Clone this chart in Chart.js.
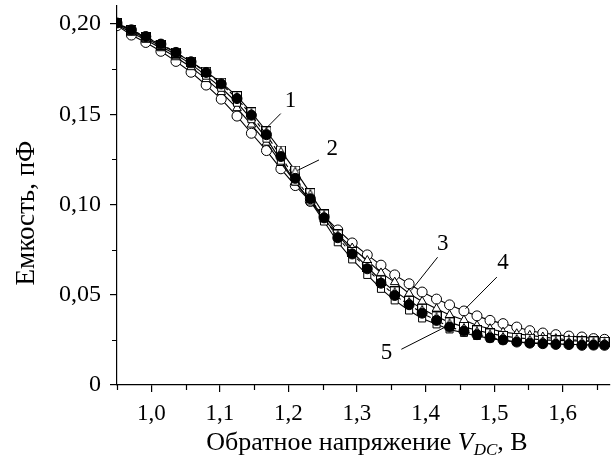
<!DOCTYPE html>
<html>
<head>
<meta charset="utf-8">
<script src="https://cdn.jsdelivr.net/npm/chart.js@4.4.0/dist/chart.umd.min.js"></script>
<style>
  html, body { margin: 0; padding: 0; background: #fff; }
</style>
</head>
<body>
<canvas id="chart" width="616" height="464"></canvas>
<script>
// reverse bias, V
const voltage = [0.950, 0.971, 0.992, 1.014, 1.036, 1.058, 1.080, 1.102, 1.125, 1.146,
                 1.168, 1.189, 1.210, 1.232, 1.252, 1.272, 1.293, 1.315, 1.335, 1.355,
                 1.376, 1.395, 1.416, 1.435, 1.456, 1.475, 1.494, 1.513, 1.533, 1.552,
                 1.571, 1.590, 1.609, 1.628, 1.645, 1.661];

// capacitance, pF
const curve1 = [0.2004, 0.1966, 0.1927, 0.1885, 0.1841, 0.1791, 0.1736, 0.1675, 0.1600, 0.1511,
                0.1406, 0.1299, 0.1188, 0.1063, 0.0945, 0.0834, 0.0737, 0.0654, 0.0579, 0.0519,
                0.0466, 0.0422, 0.0380, 0.0347, 0.0322, 0.0303, 0.0286, 0.0272, 0.0261, 0.0256,
                0.0250, 0.0247, 0.0245, 0.0242, 0.0242, 0.0239];
const curve2 = [0.2002, 0.1960, 0.1921, 0.1877, 0.1830, 0.1778, 0.1714, 0.1647, 0.1564, 0.1473,
                0.1365, 0.1243, 0.1127, 0.1017, 0.0906, 0.0791, 0.0696, 0.0610, 0.0533, 0.0469,
                0.0413, 0.0369, 0.0336, 0.0308, 0.0289, 0.0272, 0.0258, 0.0247, 0.0239, 0.0234,
                0.0231, 0.0228, 0.0225, 0.0224, 0.0222, 0.0221];
const curve3 = [0.1996, 0.1952, 0.1913, 0.1866, 0.1816, 0.1761, 0.1695, 0.1623, 0.1534, 0.1443,
                0.1343, 0.1230, 0.1122, 0.1022, 0.0917, 0.0834, 0.0759, 0.0690, 0.0621, 0.0570,
                0.0507, 0.0463, 0.0423, 0.0388, 0.0360, 0.0330, 0.0312, 0.0293, 0.0284, 0.0275,
                0.0266, 0.0257, 0.0251, 0.0247, 0.0242, 0.0239];
const curve4 = [0.1991, 0.1939, 0.1898, 0.1849, 0.1793, 0.1733, 0.1662, 0.1584, 0.1490, 0.1395,
                0.1299, 0.1198, 0.1105, 0.1017, 0.0936, 0.0859, 0.0787, 0.0721, 0.0664, 0.0610,
                0.0561, 0.0515, 0.0476, 0.0444, 0.0410, 0.0383, 0.0358, 0.0340, 0.0321, 0.0301,
                0.0288, 0.0279, 0.0271, 0.0266, 0.0257, 0.0253];
const curve5 = [0.2006, 0.1968, 0.1931, 0.1889, 0.1843, 0.1791, 0.1732, 0.1668, 0.1587, 0.1495,
                0.1387, 0.1266, 0.1145, 0.1032, 0.0926, 0.0816, 0.0726, 0.0644, 0.0564, 0.0496,
                0.0445, 0.0398, 0.0358, 0.0321, 0.0299, 0.0279, 0.0262, 0.0250, 0.0238, 0.0232,
                0.0229, 0.0225, 0.0224, 0.0220, 0.0221, 0.0220];

const xMinor = [0.95, 1.05, 1.15, 1.25, 1.35, 1.45, 1.55, 1.65];
const yMinor = [0.025, 0.075, 0.125, 0.175];

// curve numbers: text position and leader line, in data units
const curveLabels = [
    { text: '1', at: [1.2032, 0.1576], from: [1.1888, 0.1504], to: [1.1672, 0.1421] },
    { text: '2', at: [1.2638, 0.1310], from: [1.2446, 0.1247], to: [1.2133, 0.1189] },
    { text: '3', at: [1.4252, 0.0784], from: [1.4176, 0.0708], to: [1.3791, 0.0524] },
    { text: '4', at: [1.5131, 0.0679], from: [1.5040, 0.0598], to: [1.4583, 0.0423] },
    { text: '5', at: [1.3432, 0.0175], from: [1.3647, 0.0198], to: [1.4271, 0.0318] }
];

const SERIF = '"Liberation Serif", "DejaVu Serif", serif';

function pairs(ys) {
    return voltage.map((v, i) => ({ x: v, y: ys[i] }));
}

// square with a triangle inside, as the marker of curve 1
function boxedTriangle(size) {
    const c = document.createElement('canvas');
    c.width = size; c.height = size;
    const g = c.getContext('2d');
    g.fillStyle = '#fff';
    g.fillRect(0, 0, size, size);
    g.strokeStyle = '#000';
    g.lineWidth = 1;
    g.strokeRect(0.5, 0.5, size - 1, size - 1);
    g.beginPath();
    g.moveTo(1, size - 1);
    g.lineTo(size / 2, 1.5);
    g.lineTo(size - 1, size - 1);
    g.stroke();
    return c;
}

const extras = {
    id: 'extras',
    afterDraw(chart) {
        const { ctx } = chart;
        const x = chart.scales.x, y = chart.scales.y;
        ctx.save();
        ctx.strokeStyle = '#000';
        ctx.fillStyle = '#000';
        ctx.lineWidth = 1.2;

        // minor ticks
        ctx.beginPath();
        xMinor.forEach(v => {
            const px = Math.round(x.getPixelForValue(v)) + 0.5;
            ctx.moveTo(px, y.bottom);
            ctx.lineTo(px, y.bottom + 5);
        });
        yMinor.forEach(v => {
            const py = Math.round(y.getPixelForValue(v)) + 0.5;
            ctx.moveTo(x.left, py);
            ctx.lineTo(x.left - 5, py);
        });
        ctx.stroke();

        // curve numbers
        ctx.lineWidth = 1;
        ctx.font = '23px ' + SERIF;
        ctx.textAlign = 'center';
        ctx.textBaseline = 'middle';
        curveLabels.forEach(l => {
            ctx.beginPath();
            ctx.moveTo(x.getPixelForValue(l.from[0]), y.getPixelForValue(l.from[1]));
            ctx.lineTo(x.getPixelForValue(l.to[0]), y.getPixelForValue(l.to[1]));
            ctx.stroke();
            ctx.fillText(l.text, x.getPixelForValue(l.at[0]), y.getPixelForValue(l.at[1]));
        });

        // y title
        ctx.save();
        ctx.translate(27, 213);
        ctx.rotate(-Math.PI / 2);
        ctx.font = '27px ' + SERIF;
        ctx.fillText('Емкость, пФ', 0, 0);
        ctx.restore();

        // x title with italic V and subscript DC
        const parts = [
            { t: 'Обратное напряжение ', f: '26px ' + SERIF, dy: 0 },
            { t: 'V', f: 'italic 26px ' + SERIF, dy: 0 },
            { t: 'DC', f: 'italic 17px ' + SERIF, dy: 5 },
            { t: ', В', f: '26px ' + SERIF, dy: 0 }
        ];
        ctx.textAlign = 'left';
        ctx.textBaseline = 'alphabetic';
        let total = 0;
        parts.forEach(p => { ctx.font = p.f; p.w = ctx.measureText(p.t).width; total += p.w; });
        let cx = 367 - total / 2;
        parts.forEach(p => {
            ctx.font = p.f;
            ctx.fillText(p.t, cx, 450 + p.dy);
            cx += p.w;
        });
        ctx.restore();
    }
};

function series(data, style, filled, dash) {
    return {
        data: pairs(data),
        borderColor: '#000',
        borderWidth: 1.1,
        borderDash: dash || [],
        pointStyle: style,
        pointRadius: 5,
        pointHoverRadius: 5,
        pointBorderWidth: 1,
        pointBorderColor: '#000',
        pointBackgroundColor: filled ? '#000' : '#fff',
        tension: 0,
        fill: false
    };
}

new Chart(document.getElementById('chart'), {
    type: 'line',
    data: {
        datasets: [
            series(curve5, 'circle', true, [4, 3]),
            series(curve1, boxedTriangle(10), false),
            series(curve2, 'rect', false),
            series(curve3, 'triangle', false),
            series(curve4, 'circle', false)
        ]
    },
    options: {
        responsive: false,
        animation: false,
        devicePixelRatio: 1,
        layout: { padding: { top: 5, right: 0, bottom: 0, left: 0 } },
        plugins: {
            legend: { display: false },
            tooltip: { enabled: false }
        },
        scales: {
            x: {
                type: 'linear',
                min: 0.95,
                max: 1.669,
                afterFit: s => { s.height = 79; s.paddingLeft = 0; s.paddingRight = 0; },
                border: { color: '#000', width: 1.2 },
                grid: { drawOnChartArea: false, drawTicks: true, tickLength: 7, color: '#000', lineWidth: 1.2 },
                ticks: {
                    stepSize: 0.1,
                    includeBounds: false,
                    padding: 8,
                    color: '#000',
                    font: { family: SERIF, size: 23 },
                    callback: v => v.toFixed(1).replace('.', ',')
                }
            },
            y: {
                type: 'linear',
                min: 0,
                max: 0.21,
                afterFit: s => { s.width = 117; s.paddingTop = 0; s.paddingBottom = 0; },
                border: { color: '#000', width: 1.2 },
                grid: { drawOnChartArea: false, drawTicks: true, tickLength: 7, color: '#000', lineWidth: 1.2 },
                ticks: {
                    stepSize: 0.05,
                    includeBounds: false,
                    padding: 9,
                    color: '#000',
                    font: { family: SERIF, size: 24 },
                    callback: v => v === 0 ? '0' : v.toFixed(2).replace('.', ',')
                }
            }
        }
    },
    plugins: [extras]
});
</script>
</body>
</html>
